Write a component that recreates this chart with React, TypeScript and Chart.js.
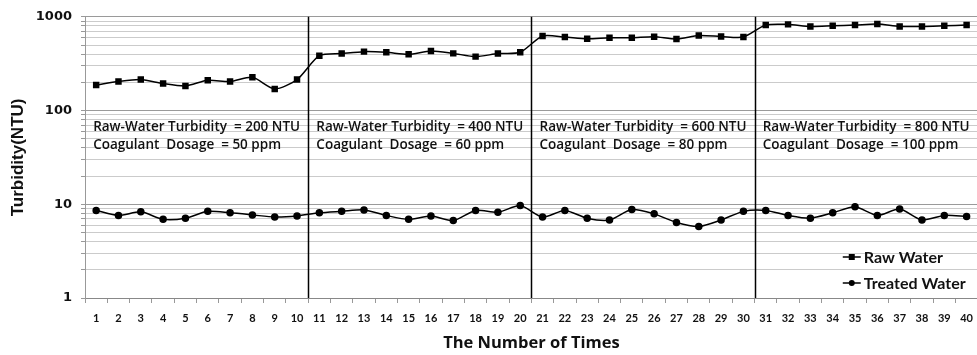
import { useEffect, useRef } from 'react';
import { Chart, registerables } from 'chart.js';

Chart.register(...registerables);

const categories = [
  '1', '2', '3', '4', '5', '6', '7', '8', '9', '10',
  '11', '12', '13', '14', '15', '16', '17', '18', '19', '20',
  '21', '22', '23', '24', '25', '26', '27', '28', '29', '30',
  '31', '32', '33', '34', '35', '36', '37', '38', '39', '40',
];

const rawWater = [
  187, 204, 214, 194, 183, 210, 204, 226, 170, 214,
  385, 405, 425, 418, 398, 432, 407, 376, 405, 418,
  624, 608, 584, 598, 598, 613, 580, 632, 617, 608,
  816, 830, 789, 802, 816, 836, 789, 789, 802, 816,
];

const treatedWater = [
  8.6, 7.6, 8.3, 6.9, 7.1, 8.4, 8.1, 7.7, 7.3, 7.5,
  8.1, 8.4, 8.7, 7.6, 6.9, 7.5, 6.7, 8.6, 8.2, 9.7,
  7.3, 8.6, 7.1, 6.8, 8.8, 7.9, 6.4, 5.8, 6.8, 8.4,
  8.6, 7.6, 7.1, 8.1, 9.4, 7.6, 8.9, 6.8, 7.6, 7.4,
];

const yTickValues = [
  1, 2, 3, 4, 5, 6, 7, 8, 9,
  10, 20, 30, 40, 50, 60, 70, 80, 90,
  100, 200, 300, 400, 500, 600, 700, 800, 900,
  1000,
];
const yLabelValues = [1, 10, 100, 1000];

const segmentFirstCategory = [0, 10, 20, 30];
const segmentLine1 = [
  'Raw-Water Turbidity  = 200 NTU',
  'Raw-Water Turbidity  = 400 NTU',
  'Raw-Water Turbidity  = 600 NTU',
  'Raw-Water Turbidity  = 800 NTU',
];
const segmentLine2 = [
  'Coagulant  Dosage  = 50 ppm',
  'Coagulant  Dosage  = 60 ppm',
  'Coagulant  Dosage  = 80 ppm',
  'Coagulant  Dosage  = 100 ppm',
];
const seriesNames = ['Raw Water', 'Treated Water'];

const ARIAL = '"Liberation Sans", Arial, sans-serif';
const DEJAVU = '"DejaVu Sans", sans-serif';
const OPEN = '"Open Sans", sans-serif';
const CALIBRI = 'Lato, "Open Sans", sans-serif';

const overlayPlugin = {
  id: 'overlay',
  afterDatasetsDraw(chart: any) {
    const { ctx, chartArea } = chart;
    const x = chart.scales.x;
    ctx.save();
    // segment separators
    ctx.strokeStyle = '#000';
    ctx.lineWidth = 1.5;
    segmentFirstCategory.slice(1).forEach((idx) => {
      const px = Math.round((x.getPixelForValue(idx - 1) + x.getPixelForValue(idx)) / 2) + 0.5;
      ctx.beginPath();
      ctx.moveTo(px, chartArea.top);
      ctx.lineTo(px, chartArea.bottom);
      ctx.stroke();
    });
    // segment notes
    ctx.fillStyle = '#111';
    ctx.font = `600 13.5px ${OPEN}`;
    ctx.textBaseline = 'middle';
    ctx.textAlign = 'left';
    segmentFirstCategory.forEach((idx, i) => {
      const px = x.getPixelForValue(idx) - 3;
      ctx.fillText(segmentLine1[i], px, chartArea.top + 110);
      ctx.fillText(segmentLine2[i], px, chartArea.top + 128);
    });
    // legend
    ctx.font = `bold 16px ${CALIBRI}`;
    const lx = chartArea.right - 135;
    const rows = [chartArea.bottom - 41, chartArea.bottom - 15];
    rows.forEach((ry, i) => {
      ctx.strokeStyle = '#000';
      ctx.lineWidth = 1.5;
      ctx.beginPath();
      ctx.moveTo(lx, ry);
      ctx.lineTo(lx + 18, ry);
      ctx.stroke();
      ctx.fillStyle = '#000';
      if (i === 0) {
        ctx.fillRect(lx + 6, ry - 3, 6, 6);
      } else {
        ctx.beginPath();
        ctx.arc(lx + 9, ry, 3, 0, Math.PI * 2);
        ctx.fill();
      }
      ctx.fillStyle = '#111';
      ctx.fillText(seriesNames[i], lx + 21, ry + 1);
    });
    ctx.restore();
  },
};

export default function App() {
  const ref = useRef<HTMLCanvasElement>(null);

  useEffect(() => {
    document.body.style.margin = '0';
    const chart = new Chart(ref.current!, {
      type: 'line',
      data: {
        labels: categories,
        datasets: [
          {
            label: seriesNames[0],
            data: rawWater,
            borderColor: '#000',
            backgroundColor: '#000',
            borderWidth: 1.5,
            pointStyle: 'rect',
            pointRadius: 3.5,
            pointHoverRadius: 3.5,
            tension: 0.25,
          },
          {
            label: seriesNames[1],
            data: treatedWater,
            borderColor: '#000',
            backgroundColor: '#000',
            borderWidth: 1.5,
            pointStyle: 'circle',
            pointRadius: 3,
            pointHoverRadius: 3,
            tension: 0.25,
          },
        ],
      },
      options: {
        animation: false,
        responsive: false,
        maintainAspectRatio: false,
        layout: { autoPadding: false, padding: { top: 15.2, right: 1, left: 0, bottom: 0 } },
        plugins: {
          legend: { display: false },
          tooltip: { enabled: false },
        },
        scales: {
          x: {
            type: 'category',
            offset: true,
            afterFit: (s: any) => { s.height = 57; },
            grid: {
              offset: true,
              drawOnChartArea: false,
              drawTicks: true,
              tickLength: 5,
              tickColor: '#999',
            },
            border: { color: '#888', width: 1 },
            ticks: {
              color: '#111',
              font: { family: CALIBRI, size: 11, weight: 'bold' },
              padding: 9,
              maxRotation: 0,
              autoSkip: false,
            },
            title: {
              display: true,
              text: 'The Number of Times',
              color: '#111',
              font: { family: OPEN, size: 16.5, weight: 'bold' },
              padding: { top: 0, bottom: 2 },
            },
          },
          y: {
            type: 'logarithmic',
            min: 1,
            max: 1000,
            afterFit: (s: any) => { s.width = 85; },
            afterBuildTicks: (s: any) => {
              s.ticks = yTickValues.map((v) => ({ value: v }));
            },
            grid: {
              color: (c: any) => (yLabelValues.includes(c.tick?.value) ? '#9a9a9a' : '#cbcbcb'),
              tickColor: '#999',
              tickLength: 4,
              lineWidth: 1,
            },
            border: { color: '#999', width: 1 },
            ticks: {
              color: '#111',
              font: { family: DEJAVU, size: 13, weight: 'bold' },
              padding: 9,
              autoSkip: false,
              callback: (v: any) => (yLabelValues.includes(Number(v)) ? String(v) : ''),
            },
            title: {
              display: true,
              text: 'Turbidity(NTU)',
              color: '#111',
              font: { family: ARIAL, size: 17, weight: 'bold' },
              padding: { top: 8, bottom: 0 },
            },
          },
        },
      },
      plugins: [overlayPlugin],
    });
    return () => chart.destroy();
  }, []);

  return (
    <div style={{ width: 977, height: 355, background: '#fff', overflow: 'hidden' }}>
      <canvas ref={ref} width={982} height={355} style={{ display: 'block' }} />
    </div>
  );
}
